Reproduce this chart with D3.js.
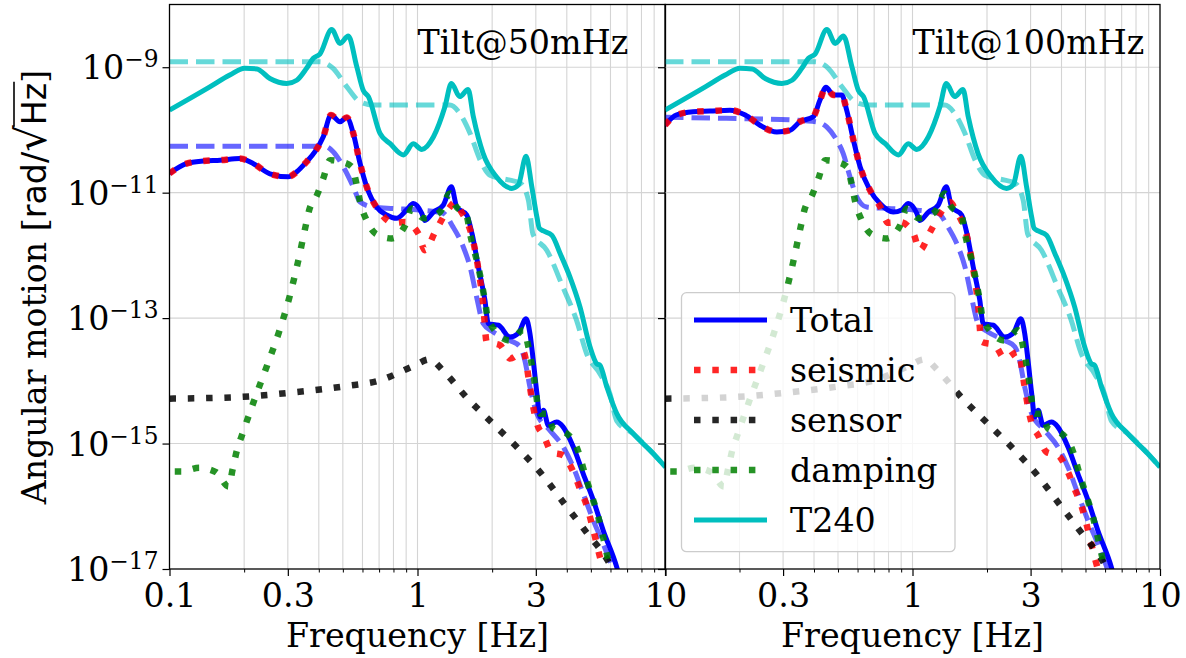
<!DOCTYPE html>
<html>
<head>
<meta charset="utf-8">
<script src="https://cdn.jsdelivr.net/npm/d3@7"></script>
<style>
  body { margin: 0; background: #fff; }
  svg { display: block; }
</style>
</head>
<body>
<svg id="chart" width="1186" height="658"></svg>
<script>
// ---- data: [frequency Hz, amplitude rad/sqrt(Hz)] ----
const panelTitles = ['Tilt@50mHz', 'Tilt@100mHz'];
const legendNames = ['Total', 'seismic', 'sensor', 'damping', 'T240'];
const xTickValues = [0.1, 0.3, 1, 3, 10];
const yTickExps = [-9, -11, -13, -15, -17];

// same in both panels
const t240 = [[0.1,2.07e-10],[0.146,4.9e-10],[0.175,7.5e-10],[0.201,9.6e-10],[0.225,9.4e-10],[0.254,6.6e-10],
  [0.297,5.5e-10],[0.326,6.2e-10],[0.357,9.6e-10],[0.38,1.39e-9],[0.404,1.62e-9],[0.451,4.0e-9],[0.487,2.4e-9],
  [0.526,3.14e-9],[0.569,1.02e-9],[0.604,4.3e-10],[0.634,3.4e-10],[0.706,8.8e-11],[0.774,6.1e-11],[0.877,4.0e-11],
  [0.961,6.0e-11],[1.04,4.9e-11],[1.16,7.8e-11],[1.29,2.34e-10],[1.37,5.5e-10],[1.48,3.4e-10],[1.6,4.4e-10],
  [1.68,1.62e-10],[1.84,4.2e-11],[2.08,1.79e-11],[2.4,1.17e-11],[2.55,1.32e-11],[2.74,3.8e-11],[2.89,1.24e-11],
  [3.03,4.1e-12],[3.1,2.7e-12],[3.22,2.45e-12],[3.48,2.1e-12],[3.76,1.07e-12],[4.12,4.5e-13],[4.52,1.51e-13],
  [4.96,3.5e-14],[5.28,1.88e-14],[5.44,1.77e-14],[5.8,8.0e-15],[6.36,3.0e-15],[7.41,1.44e-15],[8.93,6.9e-16],[10,4.2e-16]];

const t240Model = [[0.1,1.22e-9],[0.404,1.22e-9],[0.457,9.6e-10],[0.518,4.9e-10],[0.587,2.8e-10],[0.662,2.5e-10],
  [1.35,2.5e-10],[1.48,1.84e-10],[1.63,8.8e-11],[1.79,3.3e-11],[1.96,1.9e-11],[2.36,1.58e-11],[2.59,1.43e-11],
  [2.8,7.6e-12],[2.92,2.2e-12],[3.32,1.21e-12],[3.86,3.1e-13],[4.38,9.2e-14],[4.81,2.7e-14],[5.44,1.3e-14],
  [5.97,6.2e-15],[6.36,2.3e-15],[7.41,1.44e-15],[8.93,6.9e-16],[10,4.2e-16]];

const sensor = [[0.1,5.2e-15],[0.188,5.5e-15],[0.311,6.5e-15],[0.51,8.2e-15],[0.706,1.02e-14],[0.962,1.72e-14],
  [1.12,2.2e-14],[1.27,1.44e-14],[1.58,5.4e-15],[2.01,2.1e-15],[2.55,8.3e-16],[3.2,3.1e-16],[3.91,1.1e-16],
  [4.81,3.8e-17],[5.88,1.32e-17],[6.5,6e-18]];

const damping = [[0.105,3.6e-16],[0.112,3.6e-16],[0.132,4.1e-16],[0.154,3.5e-16],[0.173,2.07e-16],[0.18,4.0e-16],
  [0.187,7.8e-16],[0.197,1.44e-15],[0.22,5.0e-15],[0.247,1.72e-14],[0.276,5.9e-14],[0.304,2.1e-13],[0.329,7.6e-13],
  [0.353,2.8e-12],[0.366,5.3e-12],[0.393,9.1e-12],[0.417,1.69e-11],[0.444,3.3e-11],[0.494,3.1e-11],[0.543,2.6e-11],
  [0.569,1.32e-11],[0.587,7.1e-12],[0.624,3.6e-12],[0.68,2.2e-12],[0.787,1.86e-12],[0.891,3.0e-12],[0.948,5.6e-12],
  [1.06,3.9e-12],[1.23,4.9e-12],[1.35,9.7e-12],[1.42,6.3e-12],[1.58,4.2e-12],[1.63,2.2e-12],[1.76,6.5e-13],
  [1.87,1.9e-13],[1.93,9.2e-14],[2.36,4.4e-14],[2.67,6.4e-14],[2.8,3.5e-14],[2.93,1.3e-14],[3.12,3.0e-15],
  [3.32,3.0e-15],[3.53,1.73e-15],[4.0,1.44e-15],[4.38,8.8e-16],[4.81,2.6e-16],[5.36,6.7e-17],[5.97,1.07e-17],[6.2,6e-18]];

// low-frequency part differs per panel, high part shared
const totalLow50 = [[0.1,2.03e-11],[0.117,2.9e-11],[0.137,3.2e-11],[0.16,3.3e-11],[0.192,3.5e-11],[0.218,2.9e-11],
  [0.254,2.0e-11],[0.301,1.79e-11],[0.326,2.15e-11],[0.357,3.1e-11],[0.386,4.5e-11],[0.417,7.8e-11],[0.448,1.73e-10],
  [0.487,1.35e-10],[0.518,1.58e-10],[0.551,8.8e-11],[0.587,2.9e-11],[0.624,1.24e-11],[0.684,5.9e-12],[0.751,4.4e-12],
  [0.824,3.9e-12]];
const totalLow100 = [[0.1,1.19e-10],[0.111,1.73e-10],[0.13,1.95e-10],[0.152,2.0e-10],[0.183,2.07e-10],[0.211,1.73e-10],
  [0.242,1.19e-10],[0.283,9.3e-11],[0.32,9.9e-11],[0.351,1.35e-10],[0.397,1.62e-10],[0.423,3.0e-10],[0.447,4.8e-10],
  [0.479,3.6e-10],[0.518,3.6e-10],[0.542,2.07e-10],[0.577,6.9e-11],[0.614,2.6e-11],[0.673,1.1e-11],[0.739,6.7e-12],
  [0.836,4.9e-12]];
const totalHigh = [[0.904,5.3e-12],[0.962,6.7e-12],[1.04,4.7e-12],[1.07,3.6e-12],[1.16,4.9e-12],[1.27,6.3e-12],
  [1.37,1.24e-11],[1.44,5.9e-12],[1.58,4.4e-12],[1.66,2.2e-12],[1.76,6.5e-13],[1.87,1.93e-13],[1.93,8.2e-14],
  [2.12,7.7e-14],[2.36,5.0e-14],[2.55,5.7e-14],[2.74,9.8e-14],[2.84,5.7e-14],[2.93,2.1e-14],[3.03,6.3e-15],
  [3.12,2.65e-15],[3.22,3.4e-15],[3.37,1.95e-15],[3.64,2.2e-15],[3.87,1.83e-15],[4.25,8.8e-16],[4.66,3.3e-16],
  [5.12,1.24e-16],[5.61,4.1e-17],[6.36,1.07e-17],[6.7,5e-18]];

const seismicLow50 = [[0.1,2.03e-11],[0.117,2.9e-11],[0.137,3.2e-11],[0.16,3.3e-11],[0.192,3.5e-11],[0.218,2.9e-11],
  [0.254,2.0e-11],[0.301,1.79e-11],[0.326,2.15e-11],[0.357,3.1e-11],[0.386,4.5e-11],[0.417,7.8e-11],[0.448,1.73e-10],
  [0.487,1.35e-10],[0.518,1.58e-10],[0.551,8.8e-11],[0.587,2.9e-11],[0.624,1.24e-11],[0.706,4.9e-12]];
const seismicLow100 = [[0.1,1.19e-10],[0.111,1.73e-10],[0.13,1.95e-10],[0.152,2.0e-10],[0.183,2.07e-10],[0.211,1.73e-10],
  [0.242,1.19e-10],[0.283,9.3e-11],[0.32,9.9e-11],[0.351,1.35e-10],[0.397,1.62e-10],[0.423,3.0e-10],[0.447,4.8e-10],
  [0.479,3.6e-10],[0.518,3.6e-10],[0.542,2.07e-10],[0.577,6.9e-11],[0.614,2.6e-11],[0.673,1.1e-11],[0.74,6.0e-12]];
const seismicHigh = [[0.798,3.3e-12],[0.89,3.4e-12],[1.01,2.2e-12],[1.07,1.21e-12],[1.18,2.4e-12],[1.35,5.9e-12],
  [1.42,7.1e-12],[1.5,5.0e-12],[1.58,3.5e-12],[1.66,2.0e-12],[1.76,6.0e-13],[1.84,1.7e-13],[1.9,4.2e-14],
  [2.15,3.7e-14],[2.36,2.26e-14],[2.67,2.9e-14],[2.84,8.0e-15],[2.93,3.8e-15],[3.03,2.1e-15],[3.22,1.35e-15],
  [3.48,7.3e-16],[3.87,6.5e-16],[4.25,3.5e-16],[4.52,1.9e-16],[4.81,1.03e-16],[5.04,5.3e-17],[5.44,1.55e-17],[5.7,8e-18]];

// blue dashed model curve
const modelLow50 = [[0.1,5.5e-11],[0.424,5.5e-11],[0.457,4.5e-11],[0.502,2.6e-11],[0.551,1.24e-11],[0.587,7.1e-12],
  [0.664,5.9e-12]];
const modelLow100 = [[0.1,1.6e-10],[0.177,1.53e-10],[0.33,1.44e-10],[0.41,1.35e-10],[0.45,1.12e-10],[0.494,6.9e-11],
  [0.525,4.2e-11],[0.559,1.79e-11],[0.595,8.6e-12],[0.653,5.9e-12]];
const modelHigh = [[0.798,5.6e-12],[1.02,5.3e-12],[1.27,4.7e-12],[1.39,2.85e-12],[1.53,1.36e-12],[1.63,6.5e-13],
  [1.73,2.2e-13],[1.84,8.2e-14],[2.02,6.0e-14],[2.36,4.4e-14],[2.59,3.5e-14],[2.71,2.1e-14],[2.84,8.0e-15],
  [3.03,3.0e-15],[3.42,1.62e-15],[3.87,8.8e-16],[4.25,4.2e-16],[4.66,1.58e-16],[5.12,5.9e-17],[5.61,2.5e-17],
  [6.16,9.5e-18],[6.5,5e-18]];

// ---- layout ----
const FS = 33.3;
const SERIF = '"DejaVu Serif", serif';
const SANS = '"DejaVu Sans", sans-serif';
const plotTop = 4.5, plotBottom = 569;
const panels = [
  {x0: 169.5, x1: 665.5, title: panelTitles[0],
   total: totalLow50.concat(totalHigh), seismic: seismicLow50.concat(seismicHigh), model: modelLow50.concat(modelHigh)},
  {x0: 665, x1: 1160, title: panelTitles[1],
   total: totalLow100.concat(totalHigh), seismic: seismicLow100.concat(seismicHigh), model: modelLow100.concat(modelHigh)}
];

const styles = {
  total:     {stroke: '#0000ff', width: 5,   dash: null,         op: 1},
  seismic:   {stroke: '#ff0000', width: 6.5, dash: '6.5 11.8',   op: 0.85},
  sensor:    {stroke: '#000000', width: 6.5, dash: '6.5 11.8',   op: 0.85},
  damping:   {stroke: '#008000', width: 6.5, dash: '6.5 11.8',   op: 0.85},
  t240:      {stroke: '#00bfbf', width: 5,   dash: null,         op: 1},
  model:     {stroke: '#0000ff', width: 5,   dash: '18.5 8',     op: 0.6},
  t240Model: {stroke: '#00bfbf', width: 5,   dash: '18.5 8',     op: 0.6}
};

const svg = d3.select('#chart');
const y = d3.scaleLog().domain([1e-17, 1e-8]).range([plotBottom, plotTop]);

const minorX = [];
[0.1, 1].forEach(b => { for (let k = 2; k <= 9; k++) minorX.push(+(b * k).toFixed(2)); });

function applyStyle(sel, s) {
  sel.attr('fill', 'none')
    .attr('stroke', s.stroke)
    .attr('stroke-width', s.width)
    .attr('stroke-opacity', s.op)
    .attr('stroke-dasharray', s.dash)
    .attr('stroke-linejoin', 'round');
}

panels.forEach((p, pi) => {
  const x = d3.scaleLog().domain([0.1, 10]).range([p.x0, p.x1]);
  const g = svg.append('g');

  // grid
  const grid = g.append('g').attr('stroke', '#d4d4d4').attr('stroke-width', 1.1);
  grid.selectAll('.vx').data(minorX.concat([1])).enter().append('line')
    .attr('x1', d => x(d)).attr('x2', d => x(d)).attr('y1', plotTop).attr('y2', plotBottom);
  grid.selectAll('.hy').data(yTickExps.slice(0, 4)).enter().append('line')
    .attr('x1', p.x0).attr('x2', p.x1)
    .attr('y1', d => y(Math.pow(10, d))).attr('y2', d => y(Math.pow(10, d)));

  // curves
  const clipId = 'clip' + pi;
  svg.append('clipPath').attr('id', clipId).append('rect')
    .attr('x', p.x0).attr('y', plotTop).attr('width', p.x1 - p.x0).attr('height', plotBottom - plotTop);
  const plot = g.append('g').attr('clip-path', `url(#${clipId})`);
  const line = d3.line().x(d => x(d[0])).y(d => y(d[1])).curve(d3.curveMonotoneX);

  const series = [
    [t240Model, styles.t240Model],
    [p.model, styles.model],
    [p.total, styles.total],
    [p.seismic, styles.seismic],
    [sensor, styles.sensor],
    [damping, styles.damping],
    [t240, styles.t240]
  ];
  series.forEach(([data, s]) => {
    plot.append('path').attr('d', line(data)).call(applyStyle, s);
  });

  // x axis ticks
  const majorAxis = d3.axisBottom(x).tickValues(xTickValues)
    .tickFormat(d => (pi === 1 && d === 0.1) ? '' : d3.format('~g')(d))
    .tickSize(7).tickPadding(7.5).tickSizeOuter(0);
  const minorAxis = d3.axisBottom(x).tickValues(minorX.filter(v => v !== 0.3 && v !== 3))
    .tickFormat('').tickSize(3.5).tickSizeOuter(0);
  const ax = g.append('g').attr('transform', `translate(0,${plotBottom})`).call(majorAxis);
  const axm = g.append('g').attr('transform', `translate(0,${plotBottom})`).call(minorAxis);
  axm.select('.domain').remove();
  axm.selectAll('line').attr('stroke', '#000').attr('stroke-width', 1);
  ax.select('.domain').remove();
  ax.selectAll('text').attr('font-family', SERIF).attr('font-size', FS).attr('fill', '#000');
  ax.selectAll('line').attr('stroke', '#000').attr('stroke-width', 1.2);

  // y ticks
  const ay = g.append('g').attr('transform', `translate(${p.x0},0)`)
    .call(d3.axisLeft(y).tickValues(yTickExps.map(e => Math.pow(10, e))).tickFormat('').tickSize(7).tickSizeOuter(0));
  ay.select('.domain').remove();
  ay.selectAll('line').attr('stroke', '#000').attr('stroke-width', 1.2);

  if (pi === 0) {
    yTickExps.forEach(e => {
      const t = svg.append('text')
        .attr('x', p.x0 - 11).attr('y', y(Math.pow(10, e)) + 12)
        .attr('text-anchor', 'end')
        .attr('font-family', SERIF).attr('font-size', FS);
      t.append('tspan').text('10');
      t.append('tspan').attr('dy', -12).attr('font-size', FS * 0.7).text('\u2212' + Math.abs(e));
    });
  }

  // frame
  g.append('rect').attr('x', p.x0).attr('y', plotTop).attr('width', p.x1 - p.x0).attr('height', plotBottom - plotTop)
    .attr('fill', 'none').attr('stroke', '#000').attr('stroke-width', 1.3);

  // panel title
  g.append('text').attr('x', x(1)).attr('y', 54)
    .attr('font-family', SERIF).attr('font-size', FS).text(p.title);

  // x label
  g.append('text').attr('x', (p.x0 + p.x1) / 2).attr('y', 647)
    .attr('text-anchor', 'middle').attr('font-family', SERIF).attr('font-size', FS)
    .text('Frequency [Hz]');

  // legend in right panel
  if (pi === 1) {
    const lg = svg.append('g');
    lg.append('rect').attr('x', p.x0 + 16.5).attr('y', 292.7).attr('width', 273.5).attr('height', 259)
      .attr('rx', 5).attr('fill', '#fff').attr('fill-opacity', 0.8)
      .attr('stroke', '#cccccc').attr('stroke-width', 1.3);
    const keys = ['total', 'seismic', 'sensor', 'damping', 't240'];
    keys.forEach((k, i) => {
      const yy = 320 + i * 50;
      lg.append('line').attr('x1', p.x0 + 29).attr('x2', p.x0 + 102).attr('y1', yy).attr('y2', yy)
        .call(applyStyle, styles[k]);
      lg.append('text').attr('x', p.x0 + 125).attr('y', yy + 12)
        .attr('font-family', SERIF).attr('font-size', FS).text(legendNames[i]);
    });
  }
});

// y label with sqrt
const yl = svg.append('g').attr('transform', 'translate(46,287) rotate(-90)');
const ylab = yl.append('text').attr('text-anchor', 'middle')
  .attr('font-family', SERIF).attr('font-size', FS);
ylab.append('tspan').text('Angular motion [');
ylab.append('tspan').attr('font-family', SANS).text('rad/');
ylab.append('tspan').attr('font-family', SANS).attr('font-size', FS * 1.25).text('\u221A');
ylab.append('tspan').attr('font-family', SANS).text('Hz');
ylab.append('tspan').text(']');
const node = ylab.node();
const barX0 = node.getEndPositionOfChar(20).x - 1.5;
const barX1 = node.getEndPositionOfChar(22).x + 1;
yl.append('line').attr('x1', barX0).attr('x2', barX1).attr('y1', -32).attr('y2', -32)
  .attr('stroke', '#000').attr('stroke-width', 1.6);
</script>
</body>
</html>
